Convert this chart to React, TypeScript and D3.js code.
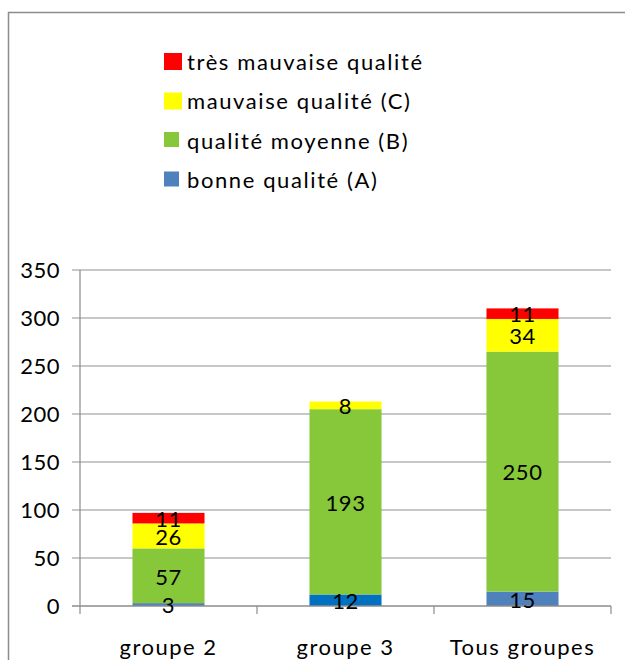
import React, { useRef, useEffect } from 'react';
import * as d3 from 'd3';

// categories along the x axis
const categories = ['groupe 2', 'groupe 3', 'Tous groupes'];

// series, bottom of the stack first
const seriesNames = [
  'bonne qualité (A)',
  'qualité moyenne (B)',
  'mauvaise qualité (C)',
  'très mauvaise qualité',
];
const bonne = [3, 12, 15];
const moyenne = [57, 193, 250];
const mauvaise = [26, 8, 34];
const tresMauvaise = [11, 0, 11];

const yTicks = [0, 50, 100, 150, 200, 250, 300, 350];

const colors = ['#4F81BD', '#86C83A', '#FFFF00', '#FF0000'];
const FONT = 'Lato, "Noto Sans", sans-serif';

export default function App() {
  const svgRef = useRef<SVGSVGElement>(null);

  useEffect(() => {
    const svg = d3.select(svgRef.current);
    svg.selectAll('*').remove();

    const rows = categories.map((c, i) => ({
      cat: c,
      s0: bonne[i],
      s1: moyenne[i],
      s2: mauvaise[i],
      s3: tresMauvaise[i],
    }));
    const keys = ['s0', 's1', 's2', 's3'];
    const stacked = d3.stack<any>().keys(keys)(rows);

    const x = d3.scaleBand()
      .domain(categories)
      .range([80, 611])
      .paddingInner(0.593)
      .paddingOuter(0.2965);

    const y = d3.scaleLinear().domain([0, 350]).range([606, 270]);

    // frame of the chart area
    svg.append('path')
      .attr('d', 'M8.5,660 V12.5 H625')
      .attr('fill', 'none')
      .attr('stroke', '#8C8C8C')
      .attr('stroke-width', 1.5);

    // gridlines
    svg.append('g')
      .selectAll('line')
      .data(yTicks.filter(t => t > 0))
      .join('line')
      .attr('x1', 72)
      .attr('x2', 611)
      .attr('y1', d => y(d))
      .attr('y2', d => y(d))
      .attr('stroke', '#B4B4B4')
      .attr('stroke-width', 1.5);

    // y axis
    svg.append('line')
      .attr('x1', 80).attr('x2', 80)
      .attr('y1', y(350)).attr('y2', y(0))
      .attr('stroke', '#8C8C8C')
      .attr('stroke-width', 1.2);

    svg.append('g')
      .selectAll('text')
      .data(yTicks)
      .join('text')
      .attr('x', 60)
      .attr('y', d => y(d))
      .attr('dy', '0.36em')
      .attr('text-anchor', 'end')
      .attr('font-family', FONT)
      .attr('font-size', 22)
      .attr('letter-spacing', 0.5)
      .attr('fill', '#000')
      .text(d => d);

    // bars
    svg.append('g')
      .selectAll('g')
      .data(stacked)
      .join('g')
      .each(function (layer, li) {
        d3.select(this)
          .selectAll('rect')
          .data(layer)
          .join('rect')
          .attr('x', (d: any) => x(d.data.cat)!)
          .attr('width', x.bandwidth())
          .attr('y', (d: any) => y(d[1]))
          .attr('height', (d: any) => y(d[0]) - y(d[1]))
          .attr('fill', (d: any) =>
            li === 0 && d.data.cat === 'groupe 3' ? '#0070C0' : colors[li]);
      });

    // x axis
    svg.append('line')
      .attr('x1', 72).attr('x2', 611)
      .attr('y1', y(0)).attr('y2', y(0))
      .attr('stroke', '#8C8C8C')
      .attr('stroke-width', 1.5);

    const edges = [80, ...categories.map(c => x(c)! - x.step() * 0.2965 + x.step())];
    svg.append('g')
      .selectAll('line')
      .data(edges)
      .join('line')
      .attr('x1', d => d).attr('x2', d => d)
      .attr('y1', y(0)).attr('y2', y(0) + 8)
      .attr('stroke', '#8C8C8C')
      .attr('stroke-width', 1.2);

    svg.append('g')
      .selectAll('text')
      .data(categories)
      .join('text')
      .attr('x', d => x(d)! + x.bandwidth() / 2)
      .attr('y', 655)
      .attr('text-anchor', 'middle')
      .attr('font-family', FONT)
      .attr('font-size', 22)
      .attr('letter-spacing', 1.5)
      .attr('fill', '#000')
      .text(d => d);

    // value labels
    svg.append('g')
      .selectAll('g')
      .data(stacked)
      .join('g')
      .each(function (layer) {
        d3.select(this)
          .selectAll('text')
          .data(layer.filter((d: any) => d[1] - d[0] > 0))
          .join('text')
          .attr('x', (d: any) => x(d.data.cat)! + x.bandwidth() / 2)
          .attr('y', (d: any) => y((d[0] + d[1]) / 2))
          .attr('dy', '0.4em')
          .attr('text-anchor', 'middle')
          .attr('font-family', FONT)
          .attr('font-size', 22)
          .attr('letter-spacing', 0.5)
          .attr('fill', '#000')
          .text((d: any) => d[1] - d[0]);
      });

    // legend, top entry first
    const legendItems = seriesNames.map((n, i) => ({ name: n, color: colors[i], i })).reverse();
    const lg = svg.append('g');
    lg.selectAll('rect')
      .data(legendItems)
      .join('rect')
      .attr('x', 164)
      .attr('y', (d, k) => 53 + k * 39.5)
      .attr('width', d => (d.i >= 2 ? 18 : 15))
      .attr('height', d => (d.i >= 2 ? 17 : 15))
      .attr('fill', d => d.color);
    lg.selectAll('text')
      .data(legendItems)
      .join('text')
      .attr('x', 187)
      .attr('y', (d, k) => 62 + k * 39.5)
      .attr('dy', '0.36em')
      .attr('font-family', FONT)
      .attr('font-size', 22)
      .attr('letter-spacing', 1.6)
      .attr('fill', '#000')
      .text(d => d.name);
  }, []);

  return (
    <svg
      ref={svgRef}
      width={625}
      height={660}
      style={{ position: 'absolute', left: 0, top: 0, background: '#fff' }}
    />
  );
}
